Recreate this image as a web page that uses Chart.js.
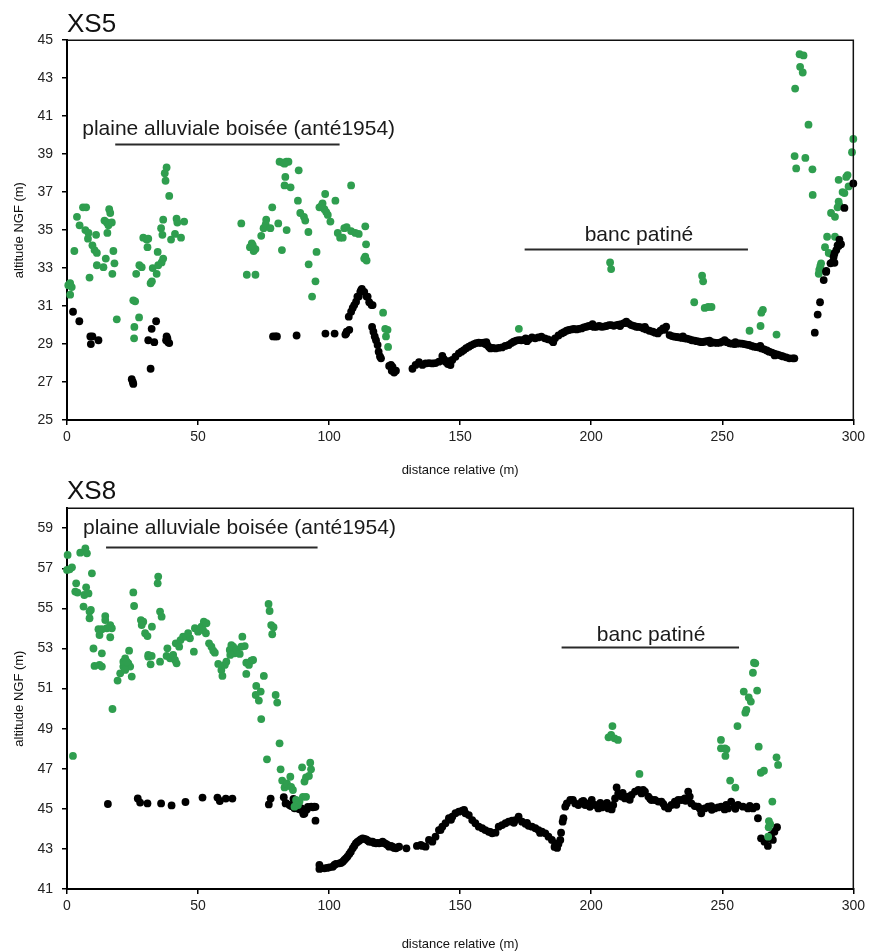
<!DOCTYPE html>
<html><head><meta charset="utf-8">
<script src="https://cdn.jsdelivr.net/npm/chart.js@4.4.0/dist/chart.umd.min.js"></script>
<style>
html,body{margin:0;padding:0;background:#fff;}
.wrap{position:absolute;left:0;width:869px;}
</style></head><body>
<div class="wrap" style="top:0;height:478px"><canvas id="c1" width="869" height="478"></canvas></div>
<div class="wrap" style="top:476px;height:476px"><canvas id="c2" width="869" height="476"></canvas></div>
<script>
// ---------- DATA ----------
const xTicks = [0, 50, 100, 150, 200, 250, 300];
const xs5YTicks = [25, 27, 29, 31, 33, 35, 37, 39, 41, 43, 45];
const xs8YTicks = [41, 43, 45, 47, 49, 51, 53, 55, 57, 59];

// XS5 - black points [distance, altitude]
const xs5Black = [
[2.3,30.7],[4.7,30.2],[8.9,29.4],[9.7,29.4],[9.1,29.0],[12.0,29.2],[24.7,27.15],[25.3,26.9],[25.1,27.0],
[31.0,29.2],[33.3,29.1],[32.3,29.8],[34.0,30.2],[31.9,27.7],[38.0,29.4],[38.6,29.1],[37.8,29.2],[39.0,29.05],[38.3,29.3],
[78.6,29.4],[79.5,29.4],[80.1,29.4],[87.6,29.45],[98.6,29.55],[102.1,29.55],[106.2,29.5],[106.5,29.56],[106.7,29.65],[107.7,29.75],
[107.5,30.44],[108.4,30.7],[109.0,30.9],[109.6,31.05],[110.3,31.23],[110.8,31.5],[111.3,31.5],[111.9,31.75],[112.2,31.84],[112.5,31.9],
[113.4,31.75],[114.3,31.5],[114.7,31.5],[115.3,31.2],[116.2,31.05],[116.6,31.05],[116.4,29.9],[116.9,29.65],[117.4,29.4],[117.9,29.2],
[118.5,28.95],[118.9,28.6],[119.4,28.35],[119.8,28.25],[122.9,27.85],[123.6,27.9],[123.9,27.6],[124.2,27.8],[124.8,27.5],[125.5,27.6],
[131.8,27.7],[133.0,27.9],[134.3,28.05],[135.6,27.9],[136.8,27.98],[138.1,28.0],[139.4,27.98],[140.6,28.0],[141.9,28.07],[143.2,28.37],
[143.8,28.2],[144.4,28.07],[145.3,27.95],[145.5,28.1],[146.3,27.89],[147.0,28.16],[148.2,28.33],[149.5,28.51],[150.5,28.6],[151.4,28.68],
[152.3,28.78],[153.3,28.86],[154.2,28.93],[155.2,29.0],[156.1,29.05],[157.1,29.07],[158.0,29.06],[159.0,29.07],[159.6,29.0],[160.0,29.1],
[160.3,28.95],[161.0,28.85],[161.6,28.77],[162.5,28.8],[163.5,28.77],[164.7,28.8],[166.0,28.82],[167.2,28.9],[168.5,28.95],[169.5,29.05],
[170.4,29.12],[171.4,29.18],[172.3,29.21],[173.3,29.2],[174.3,29.21],[175.0,29.3],[175.5,29.15],[176.2,29.25],[177.4,29.35],[178.6,29.3],
[179.8,29.35],[181.0,29.39],[182.3,29.3],[183.5,29.25],[184.9,29.18],[185.5,29.1],[186.2,29.3],[187.5,29.45],[188.7,29.56],[189.6,29.62],
[190.6,29.7],[191.5,29.74],[192.5,29.77],[193.4,29.8],[194.4,29.77],[195.3,29.8],[196.3,29.82],[197.2,29.88],[198.2,29.91],[199.1,29.95],
[200.1,29.95],[200.5,30.05],[201.0,29.9],[202.0,29.91],[203.0,29.95],[203.9,29.91],[204.8,29.92],[205.8,29.95],[206.8,30.0],[207.7,30.0],
[208.6,29.96],[209.6,30.0],[210.5,30.02],[211.0,29.95],[211.5,30.05],[212.5,30.1],[213.4,30.18],[214.3,30.08],[215.3,30.0],[216.2,29.96],
[217.2,29.91],[218.1,29.9],[219.1,29.88],[220.0,29.82],[220.5,29.9],[221.0,29.77],[222.2,29.7],[223.5,29.65],[224.4,29.6],[225.4,29.56],
[226.4,29.7],[227.4,29.82],[228.0,29.75],[228.6,29.91],[229.9,29.47],[230.8,29.42],[231.8,29.39],[232.7,29.37],[233.7,29.35],[234.6,29.32],
[235.0,29.4],[235.6,29.30],[236.5,29.28],[237.5,29.25],[238.4,29.2],[239.4,29.18],[240.3,29.15],[241.3,29.12],[242.2,29.1],[243.2,29.12],
[244.1,29.15],[245.1,29.18],[245.5,29.05],[246.0,29.1],[247.0,29.07],[248.0,29.06],[249.0,29.07],[250.0,29.12],[250.9,29.21],[251.8,29.1],
[252.8,29.04],[253.8,29.02],[254.7,29.0],[255.0,29.1],[255.6,29.02],[256.5,29.04],[257.5,29.02],[258.4,29.0],[259.3,28.97],[260.2,28.95],
[261.2,28.9],[262.1,28.86],[263.0,28.84],[264.0,28.82],[264.5,28.9],[265.0,28.77],[266.0,28.72],[267.0,28.66],[267.9,28.6],[268.9,28.55],
[269.8,28.5],[270.0,28.4],[270.8,28.46],[271.7,28.42],[272.5,28.38],[273.2,28.35],[274.4,28.3],[275.6,28.25],[276.9,28.25],[277.5,28.25],
[285.3,29.6],[286.4,30.55],[287.3,31.2],[288.7,32.37],[289.6,32.8],[289.7,32.85],[291.3,33.25],[292.1,33.33],[292.8,33.28],[292.5,33.6],
[292.8,33.77],[293.5,33.95],[294.0,34.2],[294.4,34.16],[295.3,34.26],[294.7,34.5],[296.6,36.17],[300.0,37.46]
];

// XS5 - green points [distance, altitude]
const xs5Green = [
[0.5,32.1],[1.2,32.2],[1.8,32.0],[1.2,31.6],[2.8,33.9],[3.8,35.7],[4.8,35.25],[6.1,36.2],[7.3,36.2],[7.0,35.0],
[8.2,34.85],[8.0,34.55],[8.6,32.5],[9.7,34.2],[10.5,33.95],[11.4,33.8],[11.1,34.75],[11.4,33.15],[13.9,33.05],[14.8,33.5],
[14.3,35.5],[15.2,35.4],[15.8,35.25],[15.4,34.85],[16.1,36.1],[16.5,35.9],[17.1,35.4],[17.7,33.9],[18.1,33.25],[17.3,32.7],[19.0,30.3],
[25.3,31.3],[26.0,31.25],[26.4,32.7],[25.7,29.9],[25.6,29.3],[27.5,30.4],[27.6,33.15],[28.5,33.05],[29.1,34.6],[30.4,34.5],
[31.0,34.55],[30.7,34.1],[31.9,32.2],[32.4,32.3],[32.7,33.0],[34.2,32.7],[34.6,33.85],[34.8,33.15],[36.1,33.3],[36.7,33.5],
[35.9,35.1],[36.4,34.75],[36.7,35.55],[38.0,38.3],[37.3,38.0],[37.6,37.6],[39.0,36.8],[39.7,34.5],[41.2,34.8],[41.8,35.6],
[42.1,35.4],[43.5,34.6],[44.7,35.45],
[66.5,35.35],[68.6,32.65],[71.9,32.65],[69.8,34.1],[70.5,34.3],[71.2,33.9],[71.9,34.0],[70.9,34.2],[74.1,34.7],[75.0,35.1],
[76.0,35.55],[75.8,35.3],[77.6,35.1],[78.3,36.2],[80.6,35.35],[82.0,33.95],[81.1,38.6],[82.4,38.55],[83.7,38.6],[84.5,38.6],
[83.0,38.5],[83.3,37.8],[83.0,37.35],[85.3,37.25],[83.8,35.0],[88.4,38.15],[88.1,36.55],[89.0,35.9],[90.4,35.7],[90.9,35.5],
[92.1,34.9],[95.2,33.85],[92.2,33.2],[94.8,32.3],[93.5,31.5],[98.5,36.9],[96.3,36.2],[97.5,36.4],[98.2,36.1],[98.9,35.95],
[99.5,35.8],[100.5,35.45],[97.2,36.3],[102.4,36.55],[108.4,37.35],[103.3,34.85],[104.2,34.6],[105.2,34.6],[105.8,35.1],[106.7,35.15],
[108.4,34.95],[110.0,34.85],[111.3,34.8],[113.8,35.2],[114.1,34.25],[113.8,33.6],[114.3,33.4],[113.4,33.5],[120.6,30.65],[121.4,29.8],
[122.3,29.75],[121.7,29.4],[122.5,28.85],
[172.4,29.8],[207.2,33.3],[207.6,32.95],[242.3,32.6],[242.7,32.3],[239.3,31.2],[243.3,30.9],[244.6,30.95],[245.9,30.95],[260.4,29.7],
[264.6,29.95],[264.9,30.65],[265.5,30.8],[270.7,29.5],
[279.5,44.26],[281.0,44.2],[279.7,43.6],[280.7,43.3],[277.8,42.45],[282.9,40.55],[277.6,38.9],[281.7,38.8],[278.2,38.25],[284.4,38.2],
[284.5,36.85],[300.0,39.8],[299.5,39.1],[294.4,37.65],[297.8,37.9],[297.3,37.8],[295.9,37.0],[296.6,36.95],[298.2,37.3],[294.4,36.5],
[294.7,36.3],[294.0,36.2],[291.5,35.9],[293.0,35.7],[290.0,34.65],[293.0,34.65],[289.2,34.1],[290.6,33.8],[291.5,33.75],[287.7,33.25],
[287.4,33.1],[287.0,32.9],[286.8,32.7]
];

// XS8 - black points [distance, altitude]
const xs8Black = [
[15.6,45.24],[27.0,45.52],[27.9,45.31],[30.7,45.27],[35.9,45.27],[39.9,45.17],[45.2,45.34],[51.7,45.56],[57.4,45.56],[58.3,45.39],
[60.6,45.51],[63.1,45.51],[77.0,45.22],[77.7,45.51],[82.7,45.58],[83.4,45.27],[83.6,45.28],[84.9,45.19],[85.5,45.14],[86.4,45.11],
[86.8,45.03],[87.7,45.03],[88.7,44.98],[89.3,45.03],[90.0,44.86],[90.2,44.74],[90.6,44.77],[91.5,44.97],[91.9,45.1],[93.2,45.11],
[93.8,45.08],[94.4,45.11],[94.8,45.1],[94.8,44.41],[86.4,45.5],
[96.3,42.2],[96.3,42.0],[97.0,42.03],[98.2,42.03],[99.2,42.05],[100.1,42.08],[101.4,42.11],[102.0,42.2],[102.6,42.25],[103.9,42.28],
[104.5,42.3],[105.2,42.36],[105.8,42.45],[106.4,42.53],[107.0,42.62],[107.7,42.75],[108.3,42.86],[109.0,43.03],[109.6,43.15],[110.2,43.28],
[110.8,43.35],[111.5,43.41],[112.1,43.48],[112.8,43.53],[113.4,43.5],[114.1,43.48],[114.7,43.42],[115.3,43.36],[116.0,43.36],[116.6,43.36],
[117.2,43.3],[117.9,43.28],[118.5,43.3],[119.1,43.28],[119.8,43.3],[120.4,43.36],[121.0,43.3],[121.7,43.25],[122.3,43.2],[122.9,43.11],
[123.6,43.15],[124.2,43.11],[124.8,43.05],[125.5,43.03],[126.1,43.08],[126.7,43.11],[129.5,43.03],[133.5,43.15],[135.0,43.2],[135.6,43.15],
[136.8,43.11],[138.1,43.45],[139.4,43.36],[140.6,43.61],[141.9,43.94],[142.5,43.95],[143.2,44.11],[144.4,44.28],[145.7,44.53],[146.5,44.45],
[147.0,44.61],[148.2,44.78],[149.5,44.86],[150.8,44.91],[151.5,44.95],[152.0,44.78],[153.3,44.69],[154.6,44.44],[155.8,44.28],[157.1,44.11],
[158.4,44.03],[159.6,43.94],[160.9,43.86],[161.5,43.85],[162.2,43.78],[163.5,43.81],[164.7,44.11],[166.0,44.19],[167.3,44.28],[168.5,44.36],
[169.8,44.41],[170.5,44.3],[171.1,44.44],[172.3,44.61],[173.6,44.36],[174.9,44.25],[175.5,44.3],[176.1,44.15],[177.4,44.11],[178.7,44.03],
[179.9,43.94],[180.5,43.8],[181.2,43.86],[182.5,43.78],[183.7,43.61],[185.0,43.45],[186.0,43.1],[186.3,43.28],[187.0,43.05],[187.5,43.25],
[188.2,43.45],[188.5,43.81],[189.1,44.36],[189.4,44.53],[190.1,45.11],[190.7,45.27],[192.0,45.44],[193.0,45.45],[193.9,45.27],[195.1,45.19],
[196.4,45.36],[197.0,45.4],[197.7,45.19],[198.9,45.27],[199.5,45.1],[200.2,45.44],[201.5,45.19],[202.7,45.02],[203.5,45.3],[204.0,45.07],
[205.3,45.11],[206.0,45.3],[206.5,45.02],[207.8,44.97],[208.4,45.19],[209.1,45.52],[209.7,46.07],[210.3,45.77],[211.6,45.61],[212.0,45.8],
[212.9,45.52],[214.1,45.61],[214.7,45.45],[215.4,45.69],[216.7,45.86],[218.0,45.94],[219.2,45.77],[219.8,45.95],[220.5,45.86],[221.8,45.61],
[222.5,45.5],[223.0,45.44],[224.3,45.44],[225.6,45.36],[226.8,45.36],[227.5,45.25],[228.1,45.11],[229.4,45.02],[230.6,45.19],[231.9,45.36],
[232.5,45.2],[233.2,45.44],[234.4,45.44],[235.7,45.52],[236.0,45.4],[237.0,45.86],[237.6,45.61],[238.2,45.27],[239.5,45.14],[240.8,45.11],
[241.5,45.0],[242.0,44.78],[243.3,45.02],[244.6,45.11],[245.8,45.14],[246.0,44.95],[247.1,45.02],[248.4,45.07],[249.6,45.11],[250.9,44.97],
[251.5,45.2],[252.2,45.02],[253.4,45.36],[254.7,45.11],[255.0,45.0],[256.0,45.19],[257.9,45.11],[259.8,45.02],[260.5,45.15],[261.7,45.02],
[263.0,45.11],[263.6,44.53],[264.8,43.53],[266.1,43.36],[267.4,43.15],[268.0,43.53],[268.6,43.69],[269.3,43.45],[269.9,43.86],[270.9,44.08]
];

// XS8 - green points [distance, altitude]
const xs8Green = [
[0.24,57.67],[0,56.92],[1.0,56.95],[1.9,57.05],[2.27,47.64],[3.5,56.25],[3.15,55.84],[4.0,55.79],[5.05,57.78],[7.0,58.0],
[7.6,57.75],[6.3,55.09],[6.6,55.67],[7.3,56.05],[8.2,55.75],[9.5,56.75],[8.6,54.84],[9.1,54.92],[8.6,54.51],[10.1,53.0],
[10.5,52.13],[12.4,52.18],[13.3,52.76],[13.3,52.1],[12.0,53.96],[12.4,53.67],[13.3,53.96],[14.6,54.62],[14.6,54.42],[15.2,54.01],
[16.5,54.17],[17.1,54.01],[16.5,53.56],[17.35,49.98],[19.3,51.4],[20.3,51.76],[21.5,52.1],[21.5,52.34],[22.2,52.5],[23.4,52.26],
[24.1,52.1],[24.7,51.6],[22.2,51.93],[22.8,52.34],[23.7,52.89],[25.3,55.8],[25.6,55.12],[28.2,54.42],[29.1,54.34],[28.5,54.17],
[29.8,53.76],[30.7,53.62],[32.4,54.09],[31.0,52.59],[32.3,52.63],[31.9,52.21],[31.0,52.68],[34.8,56.59],[34.6,56.25],[35.5,54.84],
[36.1,54.59],[35.5,52.34],[38.0,52.63],[38.3,53.01],[39.3,52.51],[40.5,52.68],[41.2,52.43],[41.8,52.26],[41.5,53.26],[42.8,53.09],
[43.3,53.42],[44.3,53.59],[45.4,53.59],[46.9,53.51],[46.2,53.76],[48.4,52.84],[48.8,54.01],[50.0,53.84],[51.3,54.09],[52.2,54.34],
[53.2,54.26],[51.9,53.92],[53.0,53.76],[54.2,53.26],[55.1,53.09],[55.8,52.89],[56.4,52.79],[57.7,52.23],[58.9,51.93],[59.3,51.63],
[60.2,52.18],[60.8,52.34],[62.1,52.93],[62.7,53.17],[63.4,53.09],[64.0,52.76],[64.6,52.96],[65.9,52.73],[66.9,53.59],[66.5,53.09],
[67.8,53.12],[62.3,52.68],[68.4,52.29],[69.4,52.18],[70.3,52.39],[71.0,52.43],[68.4,51.73],[72.2,51.13],[73.9,50.85],[72.0,50.68],
[73.2,50.4],[75.1,51.63],[74.1,49.48],[76.9,55.22],[77.3,54.87],[77.9,54.17],[78.8,54.06],[78.3,53.71],[79.6,50.68],[80.2,50.3],
[76.3,47.47],[81.1,48.27],[81.5,46.97],[82.1,46.41],[83.0,46.07],[83.9,46.27],[85.2,46.6],[85.5,46.1],[86.2,45.94],[89.7,47.07],
[90.6,46.36],[91.2,46.57],[92.3,46.64],[93.1,46.97],[92.8,47.3],[90.0,45.6],[91.2,45.6],[87.4,45.44],[88.7,45.36],[88.1,45.19],[86.8,45.11],
[208.1,49.13],[206.6,48.57],[207.6,48.69],[208.9,48.52],[210.2,48.44],[218.4,46.74],[249.5,48.44],[249.5,48.02],[251.0,48.02],[251.6,47.97],
[251.2,47.64],[253.0,46.41],[255.0,46.06],[255.8,49.13],[258.2,50.85],[260.1,50.56],[260.9,50.35],[258.8,49.8],[259.2,49.93],[261.7,51.79],
[262.1,52.29],[262.6,52.26],[263.3,50.9],[263.9,48.1],[264.7,46.8],[265.9,46.9],[270.7,47.57],[271.3,47.19],[269.1,45.36],[267.8,44.39],
[268.3,44.24],[267.7,44.08],[267.5,43.61]
];

// ---------- STYLE / RENDER ----------
const FONT = "'Liberation Sans', Arial, Helvetica, sans-serif";
const GREEN = '#2f9e4f';
const BLACK = '#000000';
const toXY = arr => arr.map(p => ({x: p[0], y: p[1]}));

const boxAndLabels = {
  id: 'boxAndLabels',
  afterDraw(chart, args, opts) {
    const {ctx, chartArea: a, scales: {x, y}} = chart;
    ctx.save();
    ctx.strokeStyle = '#111';
    ctx.lineWidth = 1.5;
    ctx.beginPath();
    ctx.moveTo(a.left, a.top); ctx.lineTo(a.right, a.top); ctx.lineTo(a.right, a.bottom);
    ctx.stroke();
    (opts.notes || []).forEach(n => {
      ctx.strokeStyle = '#2a2a2a';
      ctx.lineWidth = 2;
      ctx.beginPath();
      const ly = Math.round(y.getPixelForValue(n.lineY)) + 0.5;
      ctx.moveTo(x.getPixelForValue(n.lineX0), ly);
      ctx.lineTo(x.getPixelForValue(n.lineX1), ly);
      ctx.stroke();
      ctx.fillStyle = '#1a1a1a';
      ctx.font = '21px ' + FONT;
      ctx.textAlign = 'left';
      ctx.textBaseline = 'alphabetic';
      ctx.fillText(n.text, x.getPixelForValue(n.textX), y.getPixelForValue(n.textY));
    });
    ctx.restore();
  }
};

function makeChart(id, cfg) {
  const yScale = {
    type: 'linear', min: cfg.yMin, max: cfg.yMax,
    afterFit: s => { s.width = 67; },
    afterBuildTicks: s => { s.ticks = cfg.yTicks.map(v => ({value: v})); },
    border: {display: true, color: '#000', width: 2},
    grid: {display: true, drawOnChartArea: false, drawTicks: true, tickLength: 5, color: '#000', lineWidth: 1.5},
    ticks: {padding: 9, color: '#222', font: {family: FONT, size: 14}},
    title: {display: true, text: 'altitude NGF (m)', color: '#111', font: {family: FONT, size: 13}, padding: {top: 12, bottom: 0}}
  };
  const xScale = {
    type: 'linear', min: 0, max: 300,
    afterFit: s => { s.height = cfg.xAxisHeight; },
    afterBuildTicks: s => { s.ticks = xTicks.map(v => ({value: v})); },
    border: {display: true, color: '#000', width: 2},
    grid: {display: true, drawOnChartArea: false, drawTicks: true, tickLength: 5, color: '#000', lineWidth: 1.5},
    ticks: {padding: 4, color: '#222', font: {family: FONT, size: 14}, maxRotation: 0},
    title: {display: true, text: 'distance relative (m)', color: '#111', font: {family: FONT, size: 13}, padding: {top: 0, bottom: 0}}
  };
  const black = {label: 'black', data: toXY(cfg.black), backgroundColor: BLACK, borderWidth: 0, pointRadius: 3.9, clip: false};
  const green = {label: 'green', data: toXY(cfg.green), backgroundColor: GREEN, borderWidth: 0, pointRadius: 3.9, clip: false};
  new Chart(document.getElementById(id), {
    type: 'scatter',
    data: {datasets: cfg.greenOnTop ? [green, black] : [black, green]},
    options: {
      responsive: false, animation: false, events: [],
      layout: {padding: {left: 0, right: 13, top: 0, bottom: 0}},
      scales: {x: xScale, y: yScale},
      plugins: {
        legend: {display: false},
        tooltip: {enabled: false},
        title: {display: true, text: cfg.title, align: 'start', fullSize: false, color: '#111',
                font: {family: FONT, size: 26, weight: 'normal'}, padding: cfg.titlePad},
        boxAndLabels: {notes: cfg.notes}
      }
    },
    plugins: [boxAndLabels]
  });
}

makeChart('c1', {
  title: 'XS5', yMin: 25, yMax: 45, yTicks: xs5YTicks, black: xs5Black, green: xs5Green,
  greenOnTop: false, xAxisHeight: 58, titlePad: {top: 9, bottom: 0},
  notes: [
    {text: 'plaine alluviale boisée (anté1954)', textX: 5.8, textY: 40.0, lineX0: 18.4, lineX1: 104.0, lineY: 39.53},
    {text: 'banc patiné', textX: 197.5, textY: 34.45, lineX0: 174.6, lineX1: 259.8, lineY: 34.0}
  ]
});
makeChart('c2', {
  title: 'XS8', yMin: 41, yMax: 60, yTicks: xs8YTicks, black: xs8Black, green: xs8Green,
  greenOnTop: true, xAxisHeight: 63, titlePad: {top: 0, bottom: 1},
  notes: [
    {text: 'plaine alluviale boisée (anté1954)', textX: 6.1, textY: 58.71, lineX0: 14.9, lineX1: 95.6, lineY: 58.08},
    {text: 'banc patiné', textX: 202.1, textY: 53.39, lineX0: 188.7, lineX1: 256.4, lineY: 53.06}
  ]
});
</script>
</body></html>
